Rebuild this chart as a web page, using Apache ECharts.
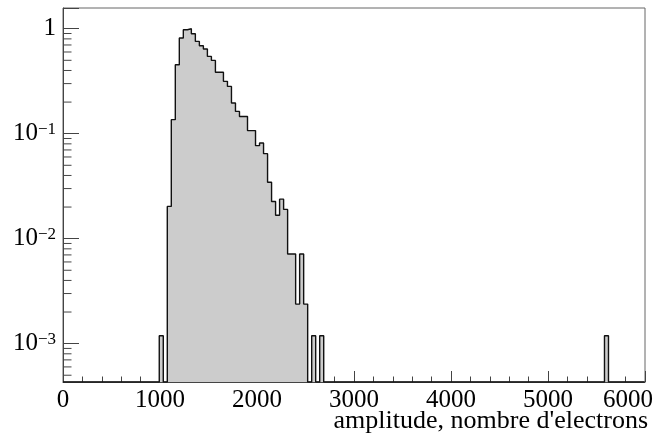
<!DOCTYPE html>
<html><head><meta charset="utf-8">
<script src="https://cdn.jsdelivr.net/npm/echarts@6/dist/echarts.min.js"></script>
<style>html,body{margin:0;padding:0;background:#fff}#c{width:672px;height:441px}</style>
</head><body><div id="c"></div>
<script>
// ---- data ----
const xRange = [0, 6000];
const xTickLabels = ['0', '1000', '2000', '3000', '4000', '5000', '6000'];
const yRange = [4.31e-4, 1.575];
const yTickLabels = ['10^-3', '10^-2', '10^-1', '1'];
const xTitle = "amplitude, nombre d'electrons";
const binWidth = 41.35;          // histogram bin width (amplitude units)
const firstBin = 24;             // index of first listed bin
const binValues = [              // normalised contents, bins 24..64
  0.00119, 0, 0.0203, 0.136, 0.454, 0.815, 0.978, 1.0, 0.896, 0.757,
  0.689, 0.641, 0.545, 0.499, 0.385, 0.385, 0.315, 0.282, 0.196, 0.163,
  0.146, 0.146, 0.107, 0.107, 0.0769, 0.0815, 0.0645, 0.0345, 0.0226, 0.0167,
  0.0238, 0.0190, 0.00714, 0.00714, 0.00238, 0.00714, 0.00238, 0, 0.00119, 0,
  0.00119
];
const extraBins = [135];         // isolated far bin
const extraValues = [0.00119];

// ---- build histogram outline ----
const nBins = Math.floor(xRange[1] / binWidth);
function binContent(k) {
  const i = k - firstBin;
  if (i >= 0 && i < binValues.length) return binValues[i];
  const e = extraBins.indexOf(k);
  return e >= 0 ? extraValues[e] : 0;
}
const pts = [];
for (let k = 0; k < nBins; k++) {
  const v = binContent(k);
  pts.push([k * binWidth, v > 0 ? v : yRange[0]]);
}
pts.push([nBins * binWidth, pts[pts.length - 1][1]]);

const yMinor = [];
for (let e = -4; e <= 0; e++) for (let m = 2; m <= 9; m++) {
  const v = m * Math.pow(10, e);
  if (v > yRange[0] && v < yRange[1]) yMinor.push(v);
}

const FONT = '"Liberation Serif", "Times New Roman", serif';
const AX = '#444';
const chart = echarts.init(document.getElementById('c'), null, {renderer: 'canvas'});
chart.setOption({
  animation: false,
  backgroundColor: '#fff',
  grid: {left: 63, right: 27, top: 8, bottom: 59, show: true, borderColor: '#666', borderWidth: 1, backgroundColor: 'transparent'},
  xAxis: {
    type: 'value', min: xRange[0], max: xRange[1], interval: 1000,
    axisLine: {show: true, lineStyle: {color: AX, width: 1}},
    axisTick: {show: true, inside: true, length: 11, lineStyle: {color: AX}},
    minorTick: {show: true, splitNumber: 5, length: 5.5, lineStyle: {color: AX}},
    splitLine: {show: false}, minorSplitLine: {show: false},
    axisLabel: {
      color: '#000', fontFamily: FONT, fontSize: 25, margin: 6,
      formatter: function (v) {
        const i = Math.round(v / 1000);
        if (Math.abs(v - i * 1000) > 1e-6 || i < 0 || i >= xTickLabels.length) return '';
        return i === xTickLabels.length - 1 ? '{last|' + xTickLabels[i] + '}' : xTickLabels[i];
      },
      rich: {last: {fontFamily: FONT, fontSize: 25, color: '#000', padding: [0, 34, 0, 0]}}
    }
  },
  yAxis: {
    type: 'log', logBase: 10, min: yRange[0], max: yRange[1],
    axisLine: {show: true, lineStyle: {color: AX, width: 1}},
    axisTick: {show: true, inside: true, length: 16, lineStyle: {color: AX}},
    splitLine: {show: false},
    axisLabel: {
      margin: 7,
      formatter: function (v) {
        const e = Math.log10(v), r = Math.round(e);
        if (Math.abs(e - r) > 1e-6) return '';
        const lab = yTickLabels[r + 3];
        if (!lab) return '';
        if (lab.indexOf('^') < 0) return '{b|' + lab + '}';
        const parts = lab.split('^');
        return '{b|' + parts[0] + '}{s|' + parts[1].replace('-', '\u2212') + '}';
      },
      rich: {
        b: {fontFamily: FONT, fontSize: 25, color: '#000', lineHeight: 26},
        s: {fontFamily: FONT, fontSize: 17, color: '#000', lineHeight: 6, verticalAlign: 'top'}
      }
    }
  },
  series: [
    {
      type: 'line', step: 'end', data: pts, symbol: 'none', showSymbol: false, clip: true,
      lineStyle: {color: '#111', width: 1.4},
      areaStyle: {color: '#cccccc', opacity: 1, origin: 'start'},
      z: 2
    },
    {
      type: 'custom', coordinateSystem: 'cartesian2d', silent: true, clip: false, z: 5,
      data: yMinor.map(v => [xRange[0], v]), encode: {x: 0, y: 1},
      renderItem: function (params, api) {
        const p = api.coord([api.value(0), api.value(1)]);
        return {type: 'line', shape: {x1: p[0], y1: p[1], x2: p[0] + 8.5, y2: p[1]}, style: {stroke: AX, lineWidth: 1}};
      }
    }
  ],
  graphic: [{
    type: 'text', right: 24, top: 408,
    style: {text: xTitle, font: '26px ' + FONT, fill: '#000', textAlign: 'right'}
  }]
});
</script></body></html>
